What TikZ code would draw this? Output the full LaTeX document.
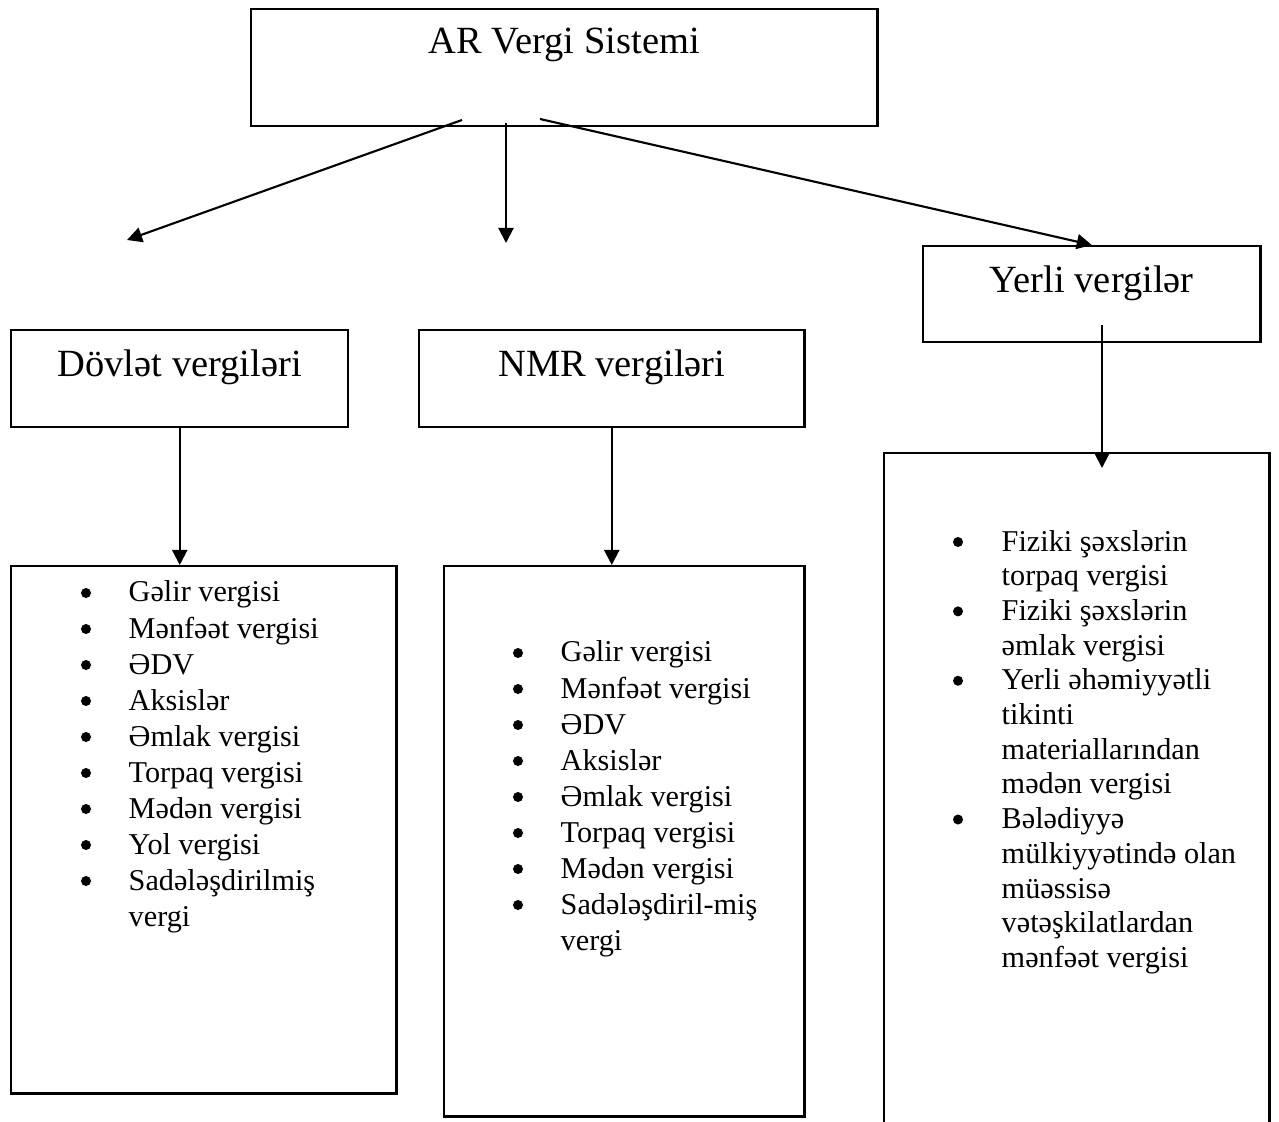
\documentclass[tikz,border=0pt]{standalone}
\usepackage{fontspec}
\setmainfont{Liberation Serif}
\usepackage{tikz}
\usetikzlibrary{arrows.meta}
\newcommand\vhfont{\fontsize{10.95}{13}\selectfont}
\newcommand\vlfont{\fontsize{8.6}{10.24}\selectfont}
\newcommand\vlfontb{\fontsize{8.6}{9.87}\selectfont}
\begin{document}
\begin{tikzpicture}[x=0.01cm,y=-0.01cm,
  hdbox/.style={draw,line width=0.65pt,inner sep=0pt,anchor=north west,font=\vhfont,minimum width=#1},
  listbox/.style={draw,line width=0.65pt,inner sep=0pt,anchor=north west},
  listtxt/.style={inner sep=0pt,anchor=base west,align=left},
  dot/.style={fill=black},
  arr/.style={line width=0.6pt,-{Triangle[length=0.15cm,width=0.15cm]}}]
\useasboundingbox (0,0) rectangle (1279,1122);
% header boxes
\node[hdbox=6.26cm,minimum height=1.17cm,text height=0.44cm,text depth=0.73cm] (ar) at (250,8) {AR Vergi Sistemi};
\node[hdbox=3.37cm,minimum height=0.97cm,text height=0.46cm,text depth=0.51cm] (dov) at (10,329) {Dövlət vergiləri};
\node[hdbox=3.85cm,minimum height=0.97cm,text height=0.46cm,text depth=0.51cm] (nmr) at (418,329) {NMR vergiləri};
\node[hdbox=3.37cm,minimum height=0.96cm,text height=0.46cm,text depth=0.50cm] (yer) at (922,245) {Yerli vergilər};
% list boxes
\node[listbox,minimum width=3.85cm,minimum height=5.27cm] (dovlist) at (10,565) {};
\node[listbox,minimum width=3.60cm,minimum height=5.50cm] (nmrlist) at (443,565) {};
\node[listbox,minimum width=3.85cm,minimum height=7.00cm] (yerlist) at (883,452) {};
% list texts
\node[listtxt] (dovitems) at (128,602) {\vlfont\begin{tabular}[t]{@{}l@{}}
Gəlir vergisi\\ Mənfəət vergisi\\ ƏDV\\ Aksislər\\ Əmlak vergisi\\
Torpaq vergisi\\ Mədən vergisi\\ Yol vergisi\\ Sadələşdirilmiş\\ vergi
\end{tabular}};
\node[listtxt] (nmritems) at (560,662) {\vlfont\begin{tabular}[t]{@{}l@{}}
Gəlir vergisi\\ Mənfəət vergisi\\ ƏDV\\ Aksislər\\ Əmlak vergisi\\
Torpaq vergisi\\ Mədən vergisi\\ Sadələşdiril-miş\\ vergi
\end{tabular}};
\node[listtxt] (yeritems) at (1001,551) {\vlfontb\begin{tabular}[t]{@{}l@{}}
Fiziki şəxslərin\\ torpaq vergisi\\ Fiziki şəxslərin\\ əmlak vergisi\\
Yerli əhəmiyyətli\\ tikinti\\ materiallarından\\ mədən vergisi\\
Bələdiyyə\\ mülkiyyətində olan\\ müəssisə\\ vətəşkilatlardan\\ mənfəət vergisi
\end{tabular}};
% bullets
\foreach \k in {0,...,8} \fill[dot] (86,{593+36*\k}) circle (0.05cm);
\foreach \k in {0,...,7} \fill[dot] (518,{653+36*\k}) circle (0.05cm);
\foreach \k in {0,2,4,8} \fill[dot] (958,{542+34.69*\k}) circle (0.05cm);
% connectors
\coordinate (arL) at (462,120);
\coordinate (arM) at (506,123);
\coordinate (arR) at (540,119);
\coordinate (dovtip) at (127,240);
\coordinate (nmrtip) at (506,243);
\coordinate (yerS) at (1102,325);
\coordinate (yertip) at (1102,468);
\draw[arr] (arL) -- (dovtip);
\draw[arr] (arM) -- (nmrtip);
\draw[arr] (arR) -- (yer.north);
\draw[arr] (dov.south) -- (dov.south |- dovlist.north);
\draw[arr] (nmr.south) -- (nmr.south |- nmrlist.north);
\draw[arr] (yerS) -- (yertip);
\end{tikzpicture}
\end{document}
